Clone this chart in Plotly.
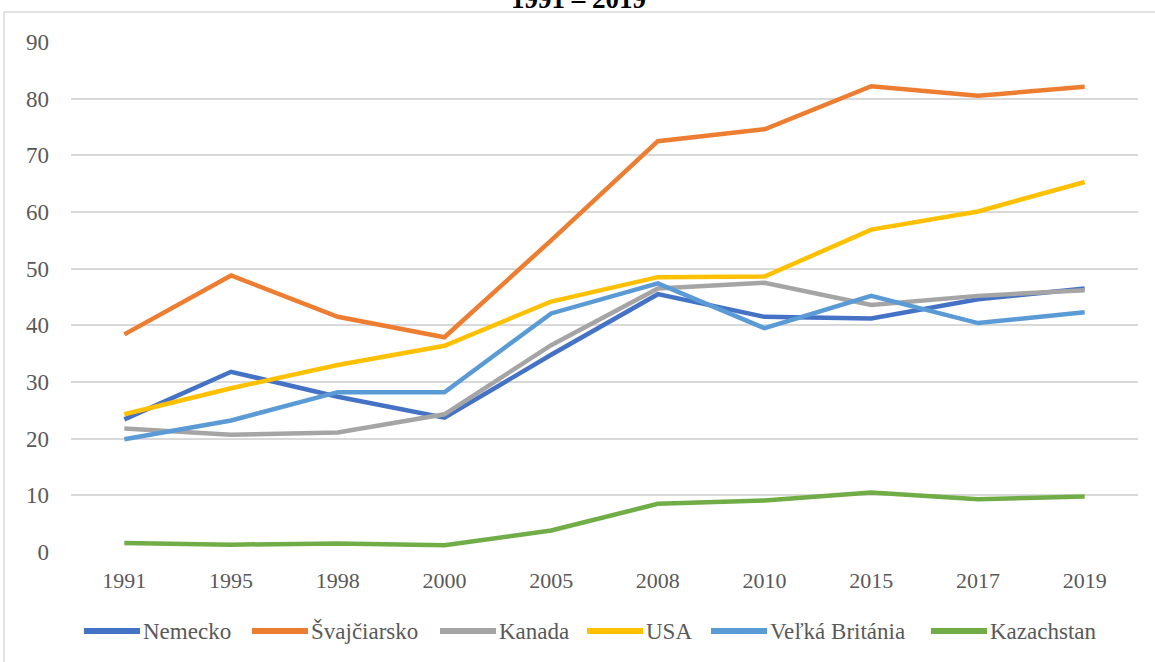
import plotly.graph_objects as go

years = ["1991", "1995", "1998", "2000", "2005", "2008", "2010", "2015", "2017", "2019"]
nemecko = [23.4, 31.8, 27.4, 23.7, 34.8, 45.5, 41.5, 41.2, 44.6, 46.5]
svajciarsko = [38.4, 48.8, 41.5, 37.9, 55.0, 72.5, 74.6, 82.2, 80.5, 82.1]
kanada = [21.8, 20.7, 21.1, 24.3, 36.5, 46.5, 47.5, 43.6, 45.2, 46.2]
usa = [24.3, 28.9, 33.0, 36.4, 44.2, 48.5, 48.6, 56.9, 60.1, 65.3]
velka_britania = [19.9, 23.2, 28.2, 28.2, 42.1, 47.4, 39.5, 45.2, 40.4, 42.3]
kazachstan = [1.6, 1.3, 1.5, 1.2, 3.8, 8.5, 9.1, 10.5, 9.3, 9.8]

series = [
    ("Nemecko", nemecko, "#4472C4"),
    ("Švajčiarsko", svajciarsko, "#ED7D31"),
    ("Kanada", kanada, "#A5A5A5"),
    ("USA", usa, "#FFC000"),
    ("Veľká Británia", velka_britania, "#5B9BD5"),
    ("Kazachstan", kazachstan, "#70AD47"),
]

FF = "Liberation Serif"
GREY = "#595959"
W, H = 1155, 662
ML, MR, MT, MB = 71, 17, 42, 110
PW, PH = W - ML - MR, H - MT - MB


def px_x(p):
    return (p - ML) / PW


def px_y(p):
    return 1 - (p - MT) / PH


fig = go.Figure()
for name, vals, color in series:
    fig.add_trace(go.Scatter(x=years, y=vals, name=name, mode="lines", showlegend=False,
                             line=dict(color=color, width=4.5)))

fig.update_layout(
    width=W, height=H,
    margin=dict(l=ML, r=MR, t=MT, b=MB),
    paper_bgcolor="white", plot_bgcolor="white",
    font=dict(family=FF, size=22, color=GREY),
    showlegend=False,
    xaxis=dict(type="category", range=[-0.5, 9.5], showgrid=False, zeroline=False,
               showline=False, ticks="", tickfont=dict(family=FF, size=22, color=GREY),
               ticklabelstandoff=13),
    yaxis=dict(range=[0, 90], dtick=10, showgrid=True, gridcolor="#D9D9D9", gridwidth=1.5,
               zeroline=False, showline=False, ticks="",
               tickfont=dict(family=FF, size=23, color=GREY), ticklabelstandoff=21),
)

# title (partly above the visible page, as in the reference)
fig.add_annotation(text="<b>1991 – 2019</b>", xref="paper", yref="paper",
                   x=px_x(578), y=px_y(-1), xanchor="center", yanchor="middle",
                   showarrow=False, font=dict(family=FF, size=27, color="black"))

# chart frame
fig.add_shape(type="rect", xref="paper", yref="paper",
              x0=px_x(4), x1=px_x(1200), y0=px_y(700), y1=px_y(12),
              line=dict(color="#D9D9D9", width=1.5), layer="below")

# legend (Excel style: long line key followed by the label)
legend_starts = [84, 252, 440, 587, 711, 931]
ly = px_y(631)
for (name, vals, color), x0 in zip(series, legend_starts):
    fig.add_shape(type="line", xref="paper", yref="paper",
                  x0=px_x(x0), x1=px_x(x0 + 56), y0=ly, y1=ly,
                  line=dict(color=color, width=6))
    fig.add_annotation(text=name, xref="paper", yref="paper",
                       x=px_x(x0 + 57), y=ly, xanchor="left", yanchor="middle",
                       showarrow=False, font=dict(family=FF, size=23, color=GREY))

fig.write_html("out.html", config={"displayModeBar": False},
               post_script="document.body.style.margin='0';")
